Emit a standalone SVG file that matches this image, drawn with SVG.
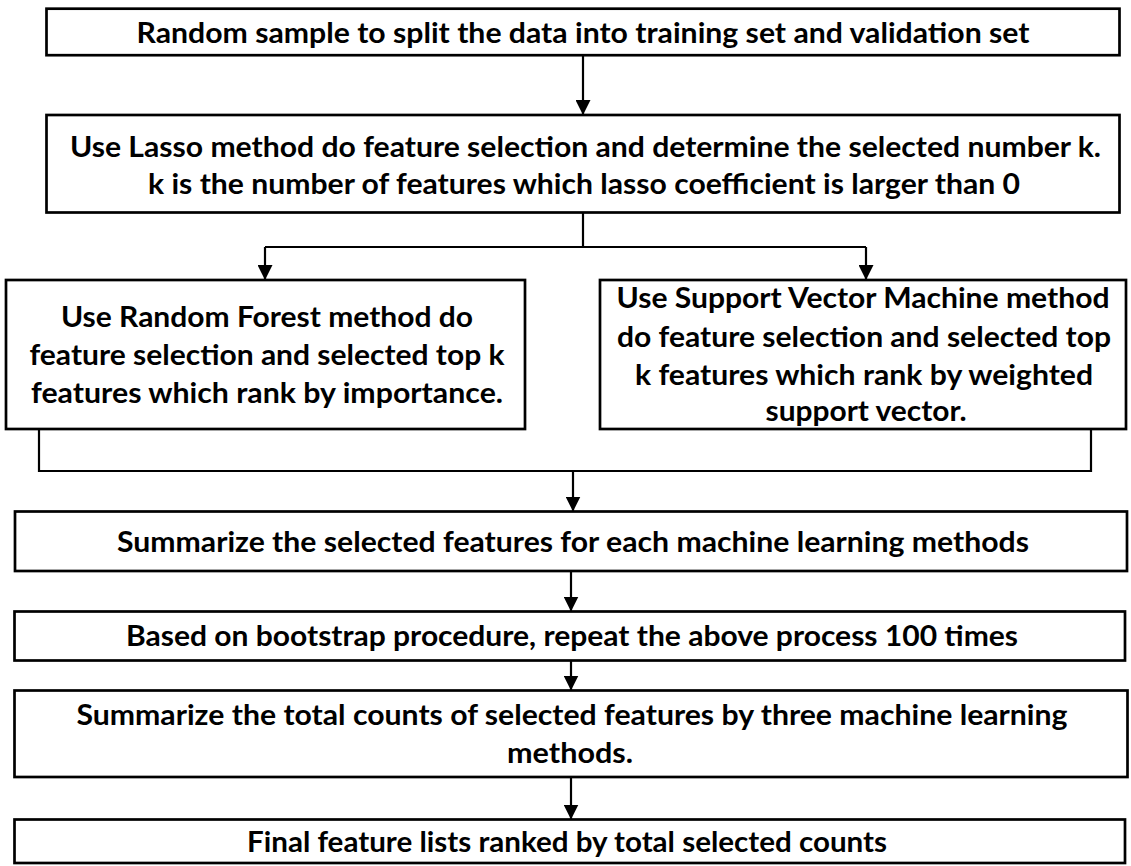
<svg xmlns="http://www.w3.org/2000/svg" width="1131" height="866" viewBox="0 0 1131 866">
  <style>
    .box { fill: #ffffff; stroke: #000000; stroke-width: 2.7; }
    .lbl { font-family: Lato, "Open Sans", "Liberation Sans", sans-serif; font-weight: 700; font-size: 29px; fill: #000000; text-anchor: middle; }
    .wire { fill: none; stroke: #000000; stroke-width: 2.2; }
  </style>
  <defs>
    <marker id="head" markerUnits="userSpaceOnUse" markerWidth="15" markerHeight="15" viewBox="0 0 15 15" refX="15" refY="7.5" orient="auto">
      <path d="M0,0 L15,7.5 L0,15 Z" fill="#000000"/>
    </marker>
  </defs>
  <rect width="1131" height="866" fill="#ffffff"/>

  <!-- connectors -->
  <g id="connectors">
    <line class="wire" x1="583" y1="55" x2="583" y2="115" marker-end="url(#head)"/>
    <polyline class="wire" points="583,212.5 583,247"/>
    <line class="wire" x1="265" y1="247" x2="866" y2="247"/>
    <line class="wire" x1="265" y1="247" x2="265" y2="280" marker-end="url(#head)"/>
    <line class="wire" x1="866" y1="247" x2="866" y2="280" marker-end="url(#head)"/>
    <polyline class="wire" points="39,429 39,471 1091,471 1091,429"/>
    <line class="wire" x1="573" y1="471" x2="573" y2="511.5" marker-end="url(#head)"/>
    <line class="wire" x1="571" y1="571" x2="571" y2="611.5" marker-end="url(#head)"/>
    <line class="wire" x1="571" y1="660.5" x2="571" y2="690.5" marker-end="url(#head)"/>
    <line class="wire" x1="571" y1="777" x2="571" y2="819.5" marker-end="url(#head)"/>
  </g>

  <g id="split">
    <rect class="box" x="46.5" y="8.7" width="1073" height="46.5"/>
    <text class="lbl" x="583" y="42.5" textLength="893" lengthAdjust="spacingAndGlyphs">Random sample to split the data into training set and validation set</text>
  </g>

  <g id="lasso">
    <rect class="box" x="46.5" y="115" width="1073" height="97.5"/>
    <text class="lbl" x="585.5" y="157" textLength="1031" lengthAdjust="spacingAndGlyphs">Use Lasso method do feature selection and determine the selected number k.</text>
    <text class="lbl" x="584" y="194" textLength="872" lengthAdjust="spacingAndGlyphs">k is the number of features which lasso coefficient is larger than 0</text>
  </g>

  <g id="random-forest">
    <rect class="box" x="6" y="280" width="519" height="149"/>
    <text class="lbl" x="267" y="327" textLength="412" lengthAdjust="spacingAndGlyphs">Use Random Forest method do</text>
    <text class="lbl" x="267" y="365" textLength="475" lengthAdjust="spacingAndGlyphs">feature selection and selected top k</text>
    <text class="lbl" x="267" y="403" textLength="472" lengthAdjust="spacingAndGlyphs">features which rank by importance.</text>
  </g>

  <g id="svm">
    <rect class="box" x="600" y="280" width="526" height="149"/>
    <text class="lbl" x="863" y="308" textLength="493" lengthAdjust="spacingAndGlyphs">Use Support Vector Machine method</text>
    <text class="lbl" x="864" y="347" textLength="494" lengthAdjust="spacingAndGlyphs">do feature selection and selected top</text>
    <text class="lbl" x="864" y="385" textLength="458" lengthAdjust="spacingAndGlyphs">k features which rank by weighted</text>
    <text class="lbl" x="866" y="421" textLength="201" lengthAdjust="spacingAndGlyphs">support vector.</text>
  </g>

  <g id="summarize-methods">
    <rect class="box" x="15" y="511.5" width="1112" height="59.5"/>
    <text class="lbl" x="573" y="551.5" textLength="912" lengthAdjust="spacingAndGlyphs">Summarize the selected features for each machine learning methods</text>
  </g>

  <g id="bootstrap">
    <rect class="box" x="14.5" y="611.5" width="1110.5" height="49"/>
    <text class="lbl" x="572" y="645.5" textLength="892" lengthAdjust="spacingAndGlyphs">Based on bootstrap procedure, repeat the above process 100 times</text>
  </g>

  <g id="total-counts">
    <rect class="box" x="14.5" y="690.5" width="1113" height="86.5"/>
    <text class="lbl" x="572" y="725" textLength="991" lengthAdjust="spacingAndGlyphs">Summarize the total counts of selected features by three machine learning</text>
    <text class="lbl" x="570" y="763" textLength="126" lengthAdjust="spacingAndGlyphs">methods.</text>
  </g>

  <g id="final-list">
    <rect class="box" x="14.5" y="819.5" width="1110.5" height="43.5"/>
    <text class="lbl" x="567" y="852" textLength="640" lengthAdjust="spacingAndGlyphs">Final feature lists ranked by total selected counts</text>
  </g>
</svg>
